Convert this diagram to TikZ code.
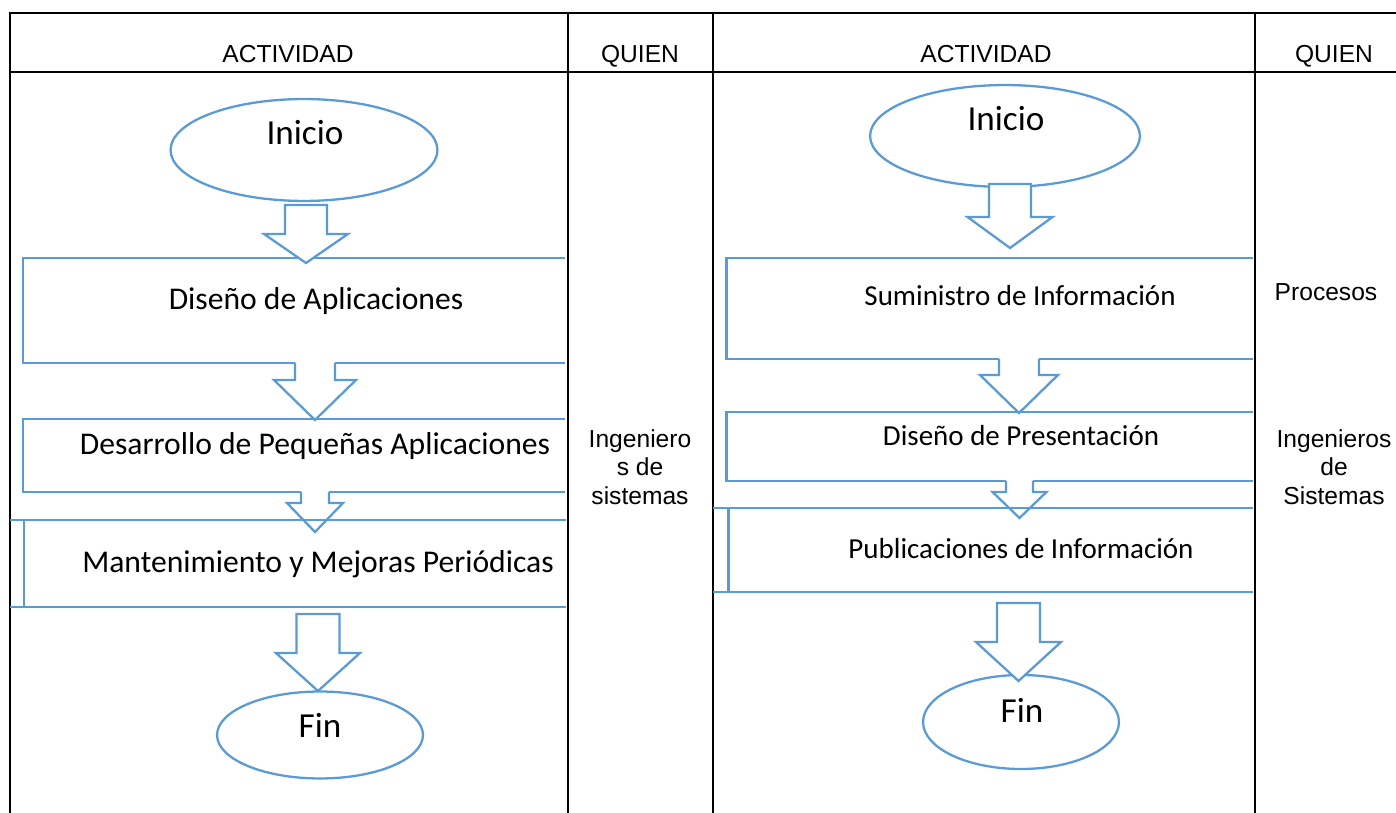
\documentclass[tikz,border=0pt]{standalone}
\usepackage{fontspec}
\setmainfont{Liberation Sans}
\newfontfamily\calibri{Carlito}
\usetikzlibrary{calc,shapes.geometric}
\definecolor{azulof}{HTML}{5B9BD5}

\tikzset{   elipazul/.style={draw=azulof,ellipse,fill=white,line width=1.3pt,inner sep=0pt},
            cajalinea/.style={draw=azulof,line width=1.7pt},
            flechalinea/.style={draw=azulof,line width=1.3pt,line join=miter},
            tabla/.style={draw=black,line width=1.4pt},
            txtarial/.style={font=\fontsize{14}{16.2}\selectfont,anchor=base,inner sep=0pt},
            txtgrande/.style={font=\calibri\fontsize{20}{24}\selectfont,anchor=base,inner sep=0pt},
            txtizq/.style={font=\calibri\fontsize{18}{22}\selectfont,anchor=base,inner sep=0pt},
            txtder/.style={font=\calibri\fontsize{16.5}{20}\selectfont,anchor=base,inner sep=0pt},
}

% block arrow with open top: from, to, shaft half width, head half width, head length
\newcommand{\flechaabierta}[5]{%
    \fill[white] ($(#1)+(-#3,-3)$) rectangle ($(#2)+(#3,-#5)$);
    \fill[white] ($(#2)+(-#4,-#5)$) -- (#2) -- ($(#2)+(#4,-#5)$) -- cycle;
    \draw[flechalinea] ($(#1)+(-#3,0)$) -- ($(#2)+(-#3,-#5)$) -- ($(#2)+(-#4,-#5)$) -- (#2)
        -- ($(#2)+(#4,-#5)$) -- ($(#2)+(#3,-#5)$) -- ($(#1)+(#3,0)$);
}
% closed block arrow
\newcommand{\flechacerrada}[5]{%
    \filldraw[flechalinea,fill=white] ($(#1)+(-#3,0)$) -- ($(#2)+(-#3,-#5)$) -- ($(#2)+(-#4,-#5)$) -- (#2)
        -- ($(#2)+(#4,-#5)$) -- ($(#2)+(#3,-#5)$) -- ($(#1)+(#3,0)$) -- cycle;
}

\begin{document}
\begin{tikzpicture}[x=0.02cm,y=-0.02cm]
    \useasboundingbox (0,0) rectangle (1396,813);

    \draw[tabla] (10,813) -- (10,13) -- (1396,13); % table frame
    \draw[tabla] (10,72) -- (1396,72);
    \draw[tabla] (568,13) -- (568,813);
    \draw[tabla] (713,13) -- (713,813);
    \draw[tabla] (1255,13) -- (1255,813);

    \node[txtarial] (actA) at (288,63) {ACTIVIDAD}; % headers
    \node[txtarial] (quienA) at (640,63) {QUIEN};
    \node[txtarial] (actB) at (986,63) {ACTIVIDAD};
    \node[txtarial] (quienB) at (1334,63) {QUIEN};

    % left flow
    \draw[cajalinea] (565,258) -- (23,258) -- (23,363) -- (565,363);
    \draw[cajalinea] (565,419) -- (23,419) -- (23,492) -- (565,492);
    \node[elipazul, minimum width=151.9pt, minimum height=58pt] (inicioA) at (304,150) {};
    \node[txtgrande] (tinicioA) at (305,145) {Inicio};

    \coordinate (a1i) at (306,205); \coordinate (a1f) at (306,263);
    \coordinate (a2i) at (315,363); \coordinate (a2f) at (315,420);
    \coordinate (a3i) at (315,492); \coordinate (a3f) at (315,532);
    \coordinate (a4i) at (318,614); \coordinate (a4f) at (318,691);
    \flechacerrada{a1i}{a1f}{21}{42}{29}
    \flechaabierta{a2i}{a2f}{20}{41}{40}
    \flechaabierta{a3i}{a3f}{14}{28}{29}
    \draw[cajalinea] (10,520) -- (566,520);
    \draw[cajalinea] (24,520) -- (24,607);
    \draw[cajalinea] (10,607) -- (566,607);
    \flechacerrada{a4i}{a4f}{21.5}{42}{38}
    \node[elipazul, minimum width=117.2pt, minimum height=49.5pt] (finA) at (320,735) {};
    \node[txtgrande] (tfinA) at (320,737) {Fin};

    \node[txtizq] (disA) at (316,310) {Diseño de Aplicaciones};
    \node[txtizq] (desA) at (315,455) {Desarrollo de Pequeñas Aplicaciones};
    \node[txtizq] (manA) at (318,573) {Mantenimiento y Mejoras Periódicas};
    \node[txtarial, anchor=center, align=center] (ingA) at (640,467) {Ingeniero\\s de\\sistemas};

    % right flow
    \draw[cajalinea] (1253,258) -- (726,258) -- (726,359) -- (1253,359);
    \draw[cajalinea] (1253,412) -- (726,412) -- (726,481) -- (1253,481);
    \node[elipazul, minimum width=153.6pt, minimum height=58pt] (inicioB) at (1005,136) {};
    \node[txtgrande] (tinicioB) at (1006,131) {Inicio};

    \coordinate (b1i) at (1010,184); \coordinate (b1f) at (1010,248);
    \coordinate (b2i) at (1019,359); \coordinate (b2f) at (1019,413);
    \coordinate (b3i) at (1019.5,481); \coordinate (b3f) at (1019.5,518);
    \coordinate (b4i) at (1018.5,603); \coordinate (b4f) at (1018.5,681);
    \flechacerrada{b1i}{b1f}{21}{42.5}{31}
    \flechaabierta{b2i}{b2f}{20}{39}{38}
    \flechaabierta{b3i}{b3f}{13.5}{27}{26}
    \draw[cajalinea] (713,508) -- (1253,508);
    \draw[cajalinea] (728,508) -- (728,592);
    \draw[cajalinea] (713,592) -- (1253,592);
    \node[elipazul, minimum width=111.5pt, minimum height=53.5pt] (finB) at (1021,722) {};
    \flechacerrada{b4i}{b4f}{21.5}{42.5}{39}
    \node[txtgrande] (tfinB) at (1022,722) {Fin};

    \node[txtder] (sumB) at (1020,306) {Suministro de Información};
    \node[txtder] (disB) at (1021,446) {Diseño de Presentación};
    \node[txtder] (pubB) at (1021,559) {Publicaciones de Información};
    \node[txtarial] (procB) at (1326,301) {Procesos};
    \node[txtarial, anchor=center, align=center] (ingB) at (1334,467) {Ingenieros\\de\\Sistemas};
\end{tikzpicture}
\end{document}
